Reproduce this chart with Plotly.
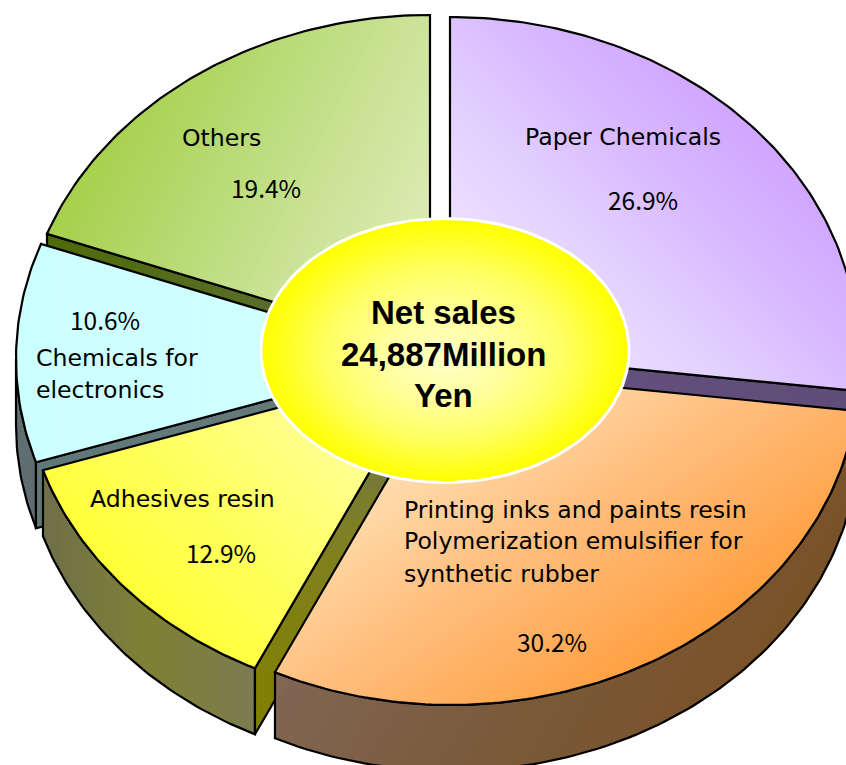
import math
import plotly.graph_objects as go

# ---- data ----
categories = ["Paper Chemicals", "Printing inks and paints resin", "Adhesives resin",
              "Chemicals for electronics", "Others"]
shares = [26.9, 30.2, 12.9, 10.6, 19.4]
center_lines = ["Net sales", "24,887Million", "Yen"]

# ---- geometry / style ----
W, H = 846, 765
CX, CY, RX, RY, DEPTH = 445, 360, 408, 334, 66
HOLE = (445, 350.5, 184, 132)
FOCUS_DY = 10
offsets = [(5, -9), (6, 11), (-14, 7), (-21, -1), (-15, -11)]
top_grad = [
    ((1, -1), ["#f0e6ff", "#ecdeff", "#e2ceff", "#d8b8ff", "#d0a6ff"]),
    ((1, 1.5), ["#ffe4c4", "#ffd4a0", "#ffc080", "#ffb062", "#ffa040"]),
    ((1, -1), ["#ffff38", "#ffff60", "#ffff90", "#ffffa8"]),
    ((1, 0), ["#ccffff", "#d2ffff"]),
    ((1, 0.5), ["#a6d04c", "#c4e08c", "#e4f0c4"]),
]
wall_grad = [
    ((1, 0), ["#604d78", "#604d78"]),
    ((1, 0.6), ["#806653", "#7a5a3c", "#7a5228"]),
    ((1, 0), ["#70704a", "#808034", "#7c7c50"]),
    ((0, 1), ["#607070", "#5f6c70"]),
    ((1, 0), ["#506810", "#606e40"]),
]
cut_grad = [
    ((1, 0), ["#66507e", "#604d78"]),
    None,
    ((0, 1), ["#707050", "#808020", "#808000"]),
    ((1, 0), ["#607878", "#6a7a7a"]),
    ((1, 0.4), ["#4f6a0c", "#607040"]),
]
FONT = "DejaVu Sans"
PCT_FONT = "Noto Sans CJK JP"
CENTER_FONT = "Liberation Sans"
labels = [
    (221, 138, "Others", "center"), (266, 187, "19.4%", "center"),
    (623, 137, "Paper Chemicals", "center"), (643, 199, "26.9%", "center"),
    (105, 319, "10.6%", "center"), (34, 358, "Chemicals for", "left"), (34, 390, "electronics", "left"),
    (182, 499, "Adhesives resin", "center"), (221, 552, "12.9%", "center"),
    (402, 510, "Printing inks and paints resin", "left"),
    (402, 541, "Polymerization emulsifier for", "left"),
    (402, 574, "synthetic rubber", "left"), (552, 641, "30.2%", "center"),
]
center_y = [312, 354, 395]


def hex_rgb(h):
    return tuple(int(h[i:i + 2], 16) for i in (1, 3, 5))


def ramp(stops, u):
    u = max(0, min(1, u)) * (len(stops) - 1)
    i = min(int(u), len(stops) - 2)
    f = u - i
    a, b = hex_rgb(stops[i]), hex_rgb(stops[i + 1])
    return "rgb(%d,%d,%d)" % tuple(round(a[k] + (b[k] - a[k]) * f) for k in range(3))


def clip(poly, d, t0):
    out = []
    n = len(poly)
    for i in range(n):
        p, q = poly[i], poly[(i + 1) % n]
        a = p[0] * d[0] + p[1] * d[1] - t0
        b = q[0] * d[0] + q[1] * d[1] - t0
        if a >= 0:
            out.append(p)
        if (a >= 0) != (b >= 0):
            f = a / (a - b)
            out.append((p[0] + (q[0] - p[0]) * f, p[1] + (q[1] - p[1]) * f))
    return out


fig = go.Figure()


def poly_trace(poly, color, line=None, width=0):
    xs = [p[0] for p in poly] + [poly[0][0]]
    ys = [p[1] for p in poly] + [poly[0][1]]
    fig.add_trace(go.Scatter(
        x=xs, y=ys, mode="lines" if line else "none", fill="toself", fillcolor=color,
        line=dict(color=line or color, width=width), hoverinfo="skip", showlegend=False))


def graded(poly, grad, steps=24):
    d, stops = grad
    ts = [p[0] * d[0] + p[1] * d[1] for p in poly]
    lo, hi = min(ts), max(ts)
    for i in range(steps):
        t0 = lo + (hi - lo) * i / steps
        c = clip(poly, d, t0) if i else poly
        if len(c) >= 3:
            poly_trace(c, ramp(stops, i / (steps - 1)))


def outline(poly):
    xs = [p[0] for p in poly] + [poly[0][0]]
    ys = [p[1] for p in poly] + [poly[0][1]]
    fig.add_trace(go.Scatter(x=xs, y=ys, mode="lines", line=dict(color="black", width=2.2),
                             hoverinfo="skip", showlegend=False))


def rim(a0, a1, off, dz=0):
    n = max(2, int(abs(a1 - a0) * 60) + 2)
    pts = []
    for i in range(n):
        a = a0 + (a1 - a0) * i / (n - 1)
        pts.append((CX + off[0] + RX * math.sin(a), CY + off[1] + dz - RY * math.cos(a)))
    return pts


total = sum(shares)
angles = []
acc = 0.0
for s in shares:
    angles.append((acc / total * 2 * math.pi, (acc + s) / total * 2 * math.pi))
    acc += s


def cut_poly(i, a):
    off = offsets[i]
    rx, ry = rim(a, a, off)[0]
    ax, ay = CX + off[0], CY + off[1]
    return [(ax, ay), (rx, ry), (rx, ry + DEPTH), (ax, ay + DEPTH)]


# which radial cut of each slice faces the viewer
cut_side = {0: 1, 2: 0, 3: 0, 4: 0}
for i in [4, 0, 3, 2, 1]:
    a0, a1 = angles[i]
    off = offsets[i]
    # rim wall, only the part that faces downward
    w0, w1 = max(a0, math.pi / 2), min(a1, 3 * math.pi / 2)
    if w1 > w0:
        r = rim(w0, w1, off)
        wall = r + rim(w1, w0, off, DEPTH)
        graded(wall, wall_grad[i], 24)
        outline(wall)
    if i in cut_side:
        c = cut_poly(i, angles[i][cut_side[i]])
        graded(c, cut_grad[i], 12)
        outline(c)
    top = [(CX + off[0], CY + off[1])] + rim(a0, a1, off)
    graded(top, top_grad[i], 64)
    outline(top)

# centre disc
hx, hy, hrx, hry = HOLE
disc_steps = 40
for k in range(disc_steps):
    f = 1 - k / disc_steps
    yc = hy + FOCUS_DY * (1 - f)
    pts = [(hx + hrx * f * math.cos(j * math.pi / 60), yc + hry * f * math.sin(j * math.pi / 60))
           for j in range(120)]
    if k == 0:
        poly_trace(pts, "#ffff00", "white", 3)
    else:
        poly_trace(pts, ramp(["#ffffc8", "#ffffa0", "#ffff60", "#ffff00"], f))

for x, y, t, al in labels:
    pct = t.endswith("%")
    fig.add_annotation(x=x, y=y, text=t, showarrow=False, xanchor=al, yanchor="middle",
                       font=dict(family=PCT_FONT if pct else FONT, size=24.5 if pct else 23.6, color="black"))
for y, t in zip(center_y, center_lines):
    fig.add_annotation(x=443, y=y, text="<b>%s</b>" % t, showarrow=False, xanchor="center", yanchor="middle",
                       font=dict(family=CENTER_FONT, size=33, color="black"))

fig.update_layout(
    width=W, height=H, margin=dict(l=0, r=0, t=0, b=0), paper_bgcolor="white", plot_bgcolor="white",
    xaxis=dict(range=[0, W], visible=False, fixedrange=True),
    yaxis=dict(range=[H, 0], visible=False, fixedrange=True),
    showlegend=False)
fig.write_html("out.html", config=dict(displayModeBar=False),
               post_script="document.body.style.margin='0';")
